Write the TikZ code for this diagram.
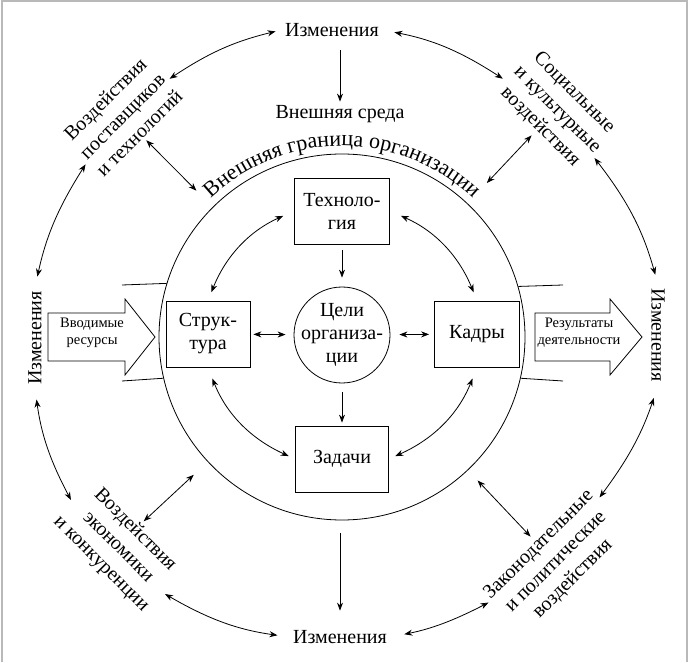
\documentclass[tikz,border=0pt]{standalone}
\usepackage{fontspec}
\setmainfont{Liberation Serif}
\usetikzlibrary{arrows.meta,decorations.text}

\begin{document}
\begin{tikzpicture}[x=1pt,y=1pt,line width=0.8pt,font=\fontsize{20}{23}\selectfont,
		blk/.style={draw,align=center,minimum height=66pt,inner sep=2pt},
		grp/.style={align=center,inner sep=3pt,font=\fontsize{20}{24}\selectfont},
		small/.style={align=center,font=\fontsize{14.5}{17}\selectfont},
		dbl/.style={{Stealth[length=8pt,width=6pt]}-{Stealth[length=8pt,width=6pt]}},
		sgl/.style={-{Stealth[length=8pt,width=6pt]}}]

		\useasboundingbox (0,0) rectangle (693,662);
		\draw[gray!55,line width=1.6pt] (2,0) -- (2,661) -- (687,661) -- (687,0);

		\node[circle,draw,minimum size=366pt] (org) at (342,325) {};
		\path[decorate,decoration={text along path,text align=center,
			text={|\fontsize{22}{26}\selectfont|Внешняя граница организации}}]
			([shift={(137:191)}]org.center) arc[start angle=137,end angle=43,radius=191];

		\node[circle,draw,minimum size=96pt,inner sep=-8pt,align=center] (goals) at (342,327) {Цели\\организа-\\ции};
		\node[blk,minimum width=95pt] (tech)   at (342,451) {Техноло-\\гия};
		\node[blk,minimum width=84pt] (struct) at (208,328) {Струк-\\тура};
		\node[blk,minimum width=85pt] (staff)  at (477,328) {Кадры};
		\node[blk,minimum width=93pt] (tasks)  at (342,203) {Задачи};

		\node (izmT) at (332,632) {Изменения};
		\node (izmB) at (340,25) {Изменения};
		\node[rotate=90]  (izmL) at (35,324) {Изменения};
		\node[rotate=-90] (izmR) at (658,327) {Изменения};
		\node (env) at (340,548) {Внешняя среда};

		\node[grp,rotate=45]  (supp) at (122,546) {Воздействия\\поставщиков\\и технологий};
		\node[grp,rotate=-45] (soc)  at (557,552) {Социальные\\и культурные\\воздействия};
		\node[grp,rotate=-45] (econ) at (118,115) {Воздействия\\экономики\\и конкуренции};
		\node[grp,rotate=45]  (law)  at (556,100) {Законодательные\\и политические\\воздействия};

		\draw (48,301) -- (125,301) -- (125,287) -- (155,325) -- (125,363) -- (125,349) -- (48,349) -- cycle;
		\node[small] (inp) at (92,329) {Вводимые\\ресурсы};
		\draw (535,301) -- (610,301) -- (610,287) -- (642,325) -- (610,363) -- (610,349) -- (535,349) -- cycle;
		\node[small] (outp) at (579,329) {Результаты\\деятельности};

		\draw (122,377) -- (org.163.5); \draw (122,281) -- (org.193.9);
		\draw (org.16.5) -- (563,377);  \draw (org.-13.9) -- (563,281);

		\draw[sgl,shorten <=10pt] (env.north |- izmT.south) to (env.north);
		\draw[sgl,shorten <=13pt,shorten >=16pt] (org.south -| izmB.north) to (izmB.north);

		\draw[sgl,shorten <=6pt,shorten >=9pt] (tech) to (goals);
		\draw[sgl,shorten <=9pt,shorten >=3pt] (goals) to (tasks);
		\draw[dbl,shorten <=3pt,shorten >=8pt] (struct) to (goals);
		\draw[dbl,shorten <=9pt,shorten >=5pt] (goals) to (staff);

		\draw[dbl,shorten <=12pt,shorten >=9pt] (tech.west) to[bend right=22] (struct.north);
		\draw[dbl,shorten <=12pt,shorten >=9pt] (tech.east) to[bend left=22] (staff.north);
		\draw[dbl,shorten <=12pt,shorten >=7pt] (struct.south) to[bend right=22] (tasks.west);
		\draw[dbl,shorten <=12pt,shorten >=7pt] (staff.south) to[bend left=22] (tasks.east);

		\draw[dbl,shorten >=23pt] (supp.south) to (org);
		\draw[dbl,shorten >=28pt] (soc.south) to (org);
		\draw[dbl,shorten >=19pt] (econ.north) to (org);
		\draw[dbl,shorten >=14pt] (law.north) to (org);

		\draw[dbl,shorten <=6pt] (izmT.west) to[bend right=10] (supp.-7);
		\draw[dbl,shorten >=12pt] (soc.195) to[bend right=11] (izmT.east);
		\draw[dbl,shorten >=11pt] (supp.188) to[bend right=10] (izmL.east);
		\draw[dbl,shorten <=11pt] (izmL.west) to[bend right=10] (econ.west);
		\draw[dbl,shorten >=12pt] (econ.east) to[bend right=11] (izmB.west);
		\draw[dbl,shorten <=14pt] (izmB.east) to[bend right=8] (law.166);
		\draw[dbl,shorten >=13pt] (law.11) to[bend right=9] (izmR.east);
		\draw[dbl,shorten <=10pt] (izmR.west) to[bend right=11] (soc.-7);

\end{tikzpicture}
\end{document}
